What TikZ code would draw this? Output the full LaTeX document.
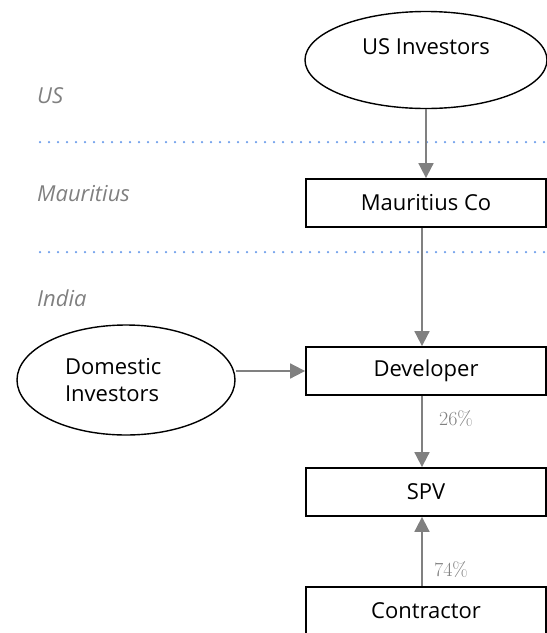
\documentclass[tikz,border=0pt]{standalone}
\usepackage{fontspec}
\setmainfont{Open Sans}
\newfontfamily\lmfont{Latin Modern Roman}
\usetikzlibrary{arrows.meta,shapes.geometric}
\definecolor{dotblue}{RGB}{109,158,235}
\definecolor{arrgray}{RGB}{128,128,128}
\definecolor{labgray}{RGB}{128,128,128}
\begin{document}
\begin{tikzpicture}[x=1pt,y=-1pt,
  entbox/.style={draw=black,line width=1.8pt,minimum width=240pt,minimum height=48pt,inner sep=0pt,font=\fontsize{22}{27}\selectfont},
  investor/.style={draw=black,line width=1.4pt,ellipse,inner sep=0pt,font=\fontsize{22}{27}\selectfont},
  arr/.style={draw=arrgray,line width=1.8pt,-{Triangle[length=15pt,width=15pt]}},
  region/.style={anchor=base west,text=labgray,font=\fontsize{22}{27}\selectfont\itshape,inner sep=0pt},
  pct/.style={text=labgray,font=\lmfont\fontsize{20}{24}\selectfont,inner sep=0pt},
  border/.style={draw=dotblue,line width=2.5pt,line cap=round,dash pattern=on 0pt off 9pt}]
\useasboundingbox (0,0) rectangle (547,633);
% region separators
\coordinate (s1a) at (40,142);
\coordinate (s1b) at (547,142);
\coordinate (s2a) at (40,252);
\coordinate (s2b) at (547,252);
\draw[border] (s1a) -- (s1b);
\draw[border] (s2a) -- (s2b);
% region labels
\node[region] (rus) at (37,103) {US};
\node[region] (rmu) at (37,201) {Mauritius};
\node[region] (rin) at (37,306) {India};
% entities
\node[investor,minimum width=242pt,minimum height=97pt,align=center] (usi) at (426,60) {US Investors\\\mbox{}};
\node[entbox] (mco) at (426,203) {Mauritius Co};
\node[entbox] (dev) at (426,371) {Developer};
\node[entbox] (spv) at (426,492) {SPV};
\node[entbox] (con) at (426,611) {Contractor};
\node[investor,minimum width=218pt,minimum height=110pt,text width=122pt,align=left] (dom) at (126,380) {Domestic\\Investors};
% connectors
\draw[arr] (usi.south) -- (mco.north);
\draw[arr] ([xshift=-4pt]mco.south) -- ([xshift=-4pt]dev.north);
\draw[arr] (dom.east |- dev.west) -- (dev.west);
\draw[arr] ([xshift=-4pt]dev.south) -- ([xshift=-4pt]spv.north);
\draw[arr] ([xshift=-4pt]con.north) -- ([xshift=-4pt]spv.south);
% percentages
\node[pct] (p26) at (456,419) {26\%};
\node[pct] (p74) at (451,570) {74\%};
\end{tikzpicture}
\end{document}
